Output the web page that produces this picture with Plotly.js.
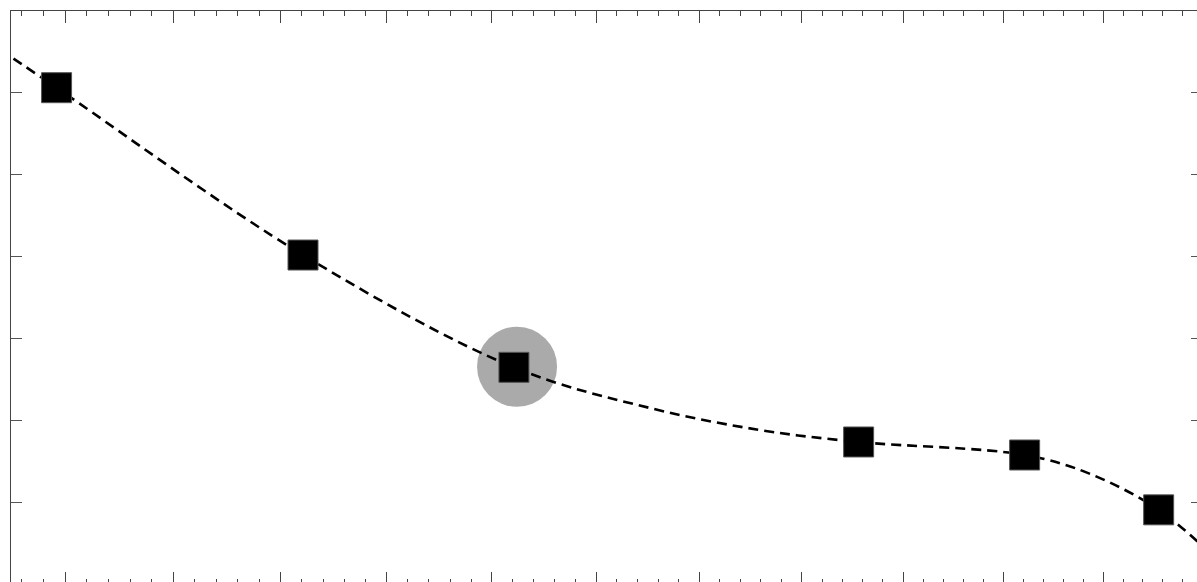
<!DOCTYPE html>
<html>
<head>
<meta charset="utf-8">
<script src="https://cdn.plot.ly/plotly-3.0.1.min.js"></script>
<style>
html, body { margin: 0; padding: 0; overflow: hidden; background: #fff; }
#chart { width: 1202px; height: 584px; }
</style>
</head>
<body>
<div id="chart"></div>
<script>
// Data
const pointX = [1039.2, 1062.1, 1082.1, 1115.6, 1132.1, 1145.6];
const pointY = [6.063, 4.019, 2.647, 1.735, 1.576, 0.906];

const curveX = [1034.0, 1039.2, 1062.1, 1082.1, 1095.2, 1105.9, 1115.6, 1132.1, 1138.7, 1145.6, 1150.8];
const curveY = [6.530, 6.063, 4.019, 2.647, 2.150, 1.881, 1.735, 1.576, 1.344, 0.906, 0.379];

const highlightX = [1082.4];
const highlightY = [2.655];

const xMajorTicks = [1040, 1050, 1060, 1070, 1080, 1090, 1100, 1110, 1120, 1130, 1140];
const xMinorTicks = [1036, 1038, 1042, 1044, 1046, 1048, 1052, 1054, 1056, 1058,
  1062, 1064, 1066, 1068, 1072, 1074, 1076, 1078, 1082, 1084, 1086, 1088,
  1092, 1094, 1096, 1098, 1102, 1104, 1106, 1108, 1112, 1114, 1116, 1118,
  1122, 1124, 1126, 1128, 1132, 1134, 1136, 1138, 1142, 1144, 1146, 1148];
const yMajorTicks = [1, 2, 3, 4, 5, 6];

const traces = [
  {
    x: highlightX, y: highlightY, type: 'scatter', mode: 'markers',
    marker: { size: 80, color: '#aaaaaa', symbol: 'circle', line: { width: 0 } },
    hoverinfo: 'skip', showlegend: false
  },
  {
    x: curveX, y: curveY, type: 'scatter', mode: 'lines',
    line: { color: '#000', width: 2.6, dash: '10px,6px', shape: 'spline', smoothing: 1 },
    hoverinfo: 'skip', showlegend: false
  },
  {
    x: pointX, y: pointY, type: 'scatter', mode: 'markers',
    marker: { size: 30, color: '#000', symbol: 'square', line: { width: 1, color: '#555' } },
    showlegend: false
  }
];

const layout = {
  width: 1202, height: 584,
  margin: { l: 11, r: 0, t: 11, b: 0, pad: 0 },
  paper_bgcolor: '#fff', plot_bgcolor: '#fff',
  showlegend: false,
  xaxis: {
    type: 'log',
    range: [Math.log10(1035.02), Math.log10(1150)],
    showgrid: false, zeroline: false,
    showline: true, linecolor: '#444', linewidth: 1, mirror: 'allticks',
    tickmode: 'array', tickvals: xMajorTicks,
    ticks: 'inside', ticklen: 12, tickwidth: 1, tickcolor: '#444',
    showticklabels: false,
    minor: { tickmode: 'array', tickvals: xMinorTicks, ticks: 'inside', ticklen: 5, tickwidth: 1, tickcolor: '#444', showgrid: false }
  },
  yaxis: {
    range: [0, 7],
    showgrid: false, zeroline: false,
    showline: true, linecolor: '#444', linewidth: 1, mirror: 'allticks',
    tickmode: 'array', tickvals: yMajorTicks,
    ticks: 'inside', ticklen: 11, tickwidth: 1, tickcolor: '#555',
    showticklabels: false
  }
};

Plotly.newPlot('chart', traces, layout, { displayModeBar: false, staticPlot: true });
</script>
</body>
</html>
